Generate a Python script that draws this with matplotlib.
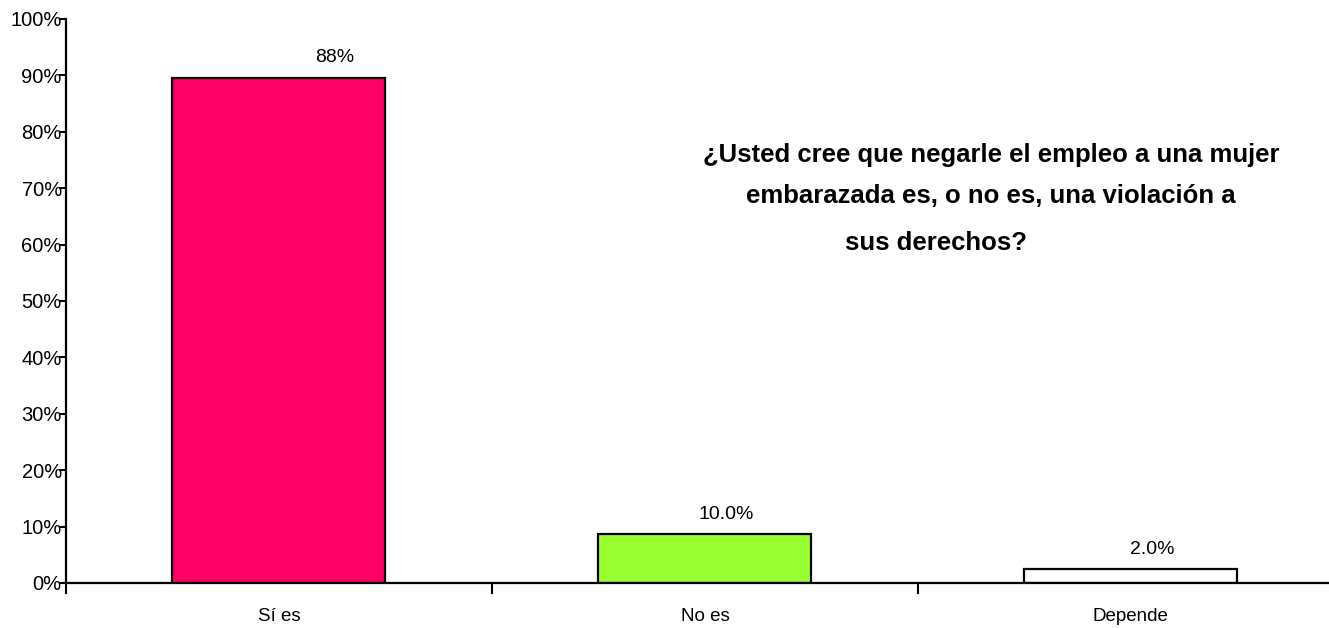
import matplotlib.pyplot as plt
import numpy as np

plt.rcParams['font.family'] = ['Liberation Sans', 'DejaVu Sans']

# datos
categorias = ["Sí es", "No es", "Depende"]
valores = [89.6, 8.7, 2.4]          # altura de las barras (%)
etiquetas = ["88%", "10.0%", "2.0%"]  # texto mostrado sobre las barras
colores = ["#FF0066", "#99FF33", "#FFFFFF"]
yticks = np.arange(0, 101, 10)
titulo = ["¿Usted cree que negarle el empleo a una mujer",
          "embarazada es, o no es, una violación a",
          "sus derechos?"]

fig = plt.figure(figsize=(13.29, 6.28), dpi=100)
ax = fig.add_axes([66 / 1329, 1 - 583 / 628, 1 - 66 / 1329, (583 - 19) / 628])

x = np.arange(len(categorias))
bars = ax.bar(x, valores, width=0.5, color=colores, edgecolor="black", linewidth=1.6)

# etiquetas de datos (desplazadas a la derecha como en el original)
offsets = [0.13, 0.05, 0.05]
for b, lab, dx in zip(bars, etiquetas, offsets):
    ax.text(b.get_x() + b.get_width() / 2 + dx, b.get_height() + 2.0, lab,
            ha="center", va="bottom", fontsize=14)

ax.set_xlim(-0.5, 2.465)
ax.set_ylim(0, 100)

ax.set_yticks(yticks)
ax.set_yticklabels([f"{v}%" for v in yticks], fontsize=14.5)
ax.tick_params(axis="y", direction="out", length=5, width=1.5, pad=-2)

ax.set_xticks([-0.5, 0.5, 1.5])
ax.set_xticklabels([])
ax.tick_params(axis="x", which="major", direction="out", length=8, width=1.5)
ax.set_xticks(x, minor=True)
ax.set_xticklabels(categorias, minor=True, fontsize=13.5)
ax.tick_params(axis="x", which="minor", length=0, pad=18)

for s in ["top", "right"]:
    ax.spines[s].set_visible(False)
for s in ["left", "bottom"]:
    ax.spines[s].set_linewidth(1.6)

# titulo dentro del grafico
fig.text(991 / 1329, 1 - 155 / 628, titulo[0], ha="center", va="center",
         fontsize=18.5, fontweight="bold")
fig.text(991 / 1329, 1 - 196 / 628, titulo[1], ha="center", va="center",
         fontsize=18.5, fontweight="bold")
fig.text(936 / 1329, 1 - 243 / 628, titulo[2], ha="center", va="center",
         fontsize=18.5, fontweight="bold")

plt.savefig("out.png", dpi=100)
